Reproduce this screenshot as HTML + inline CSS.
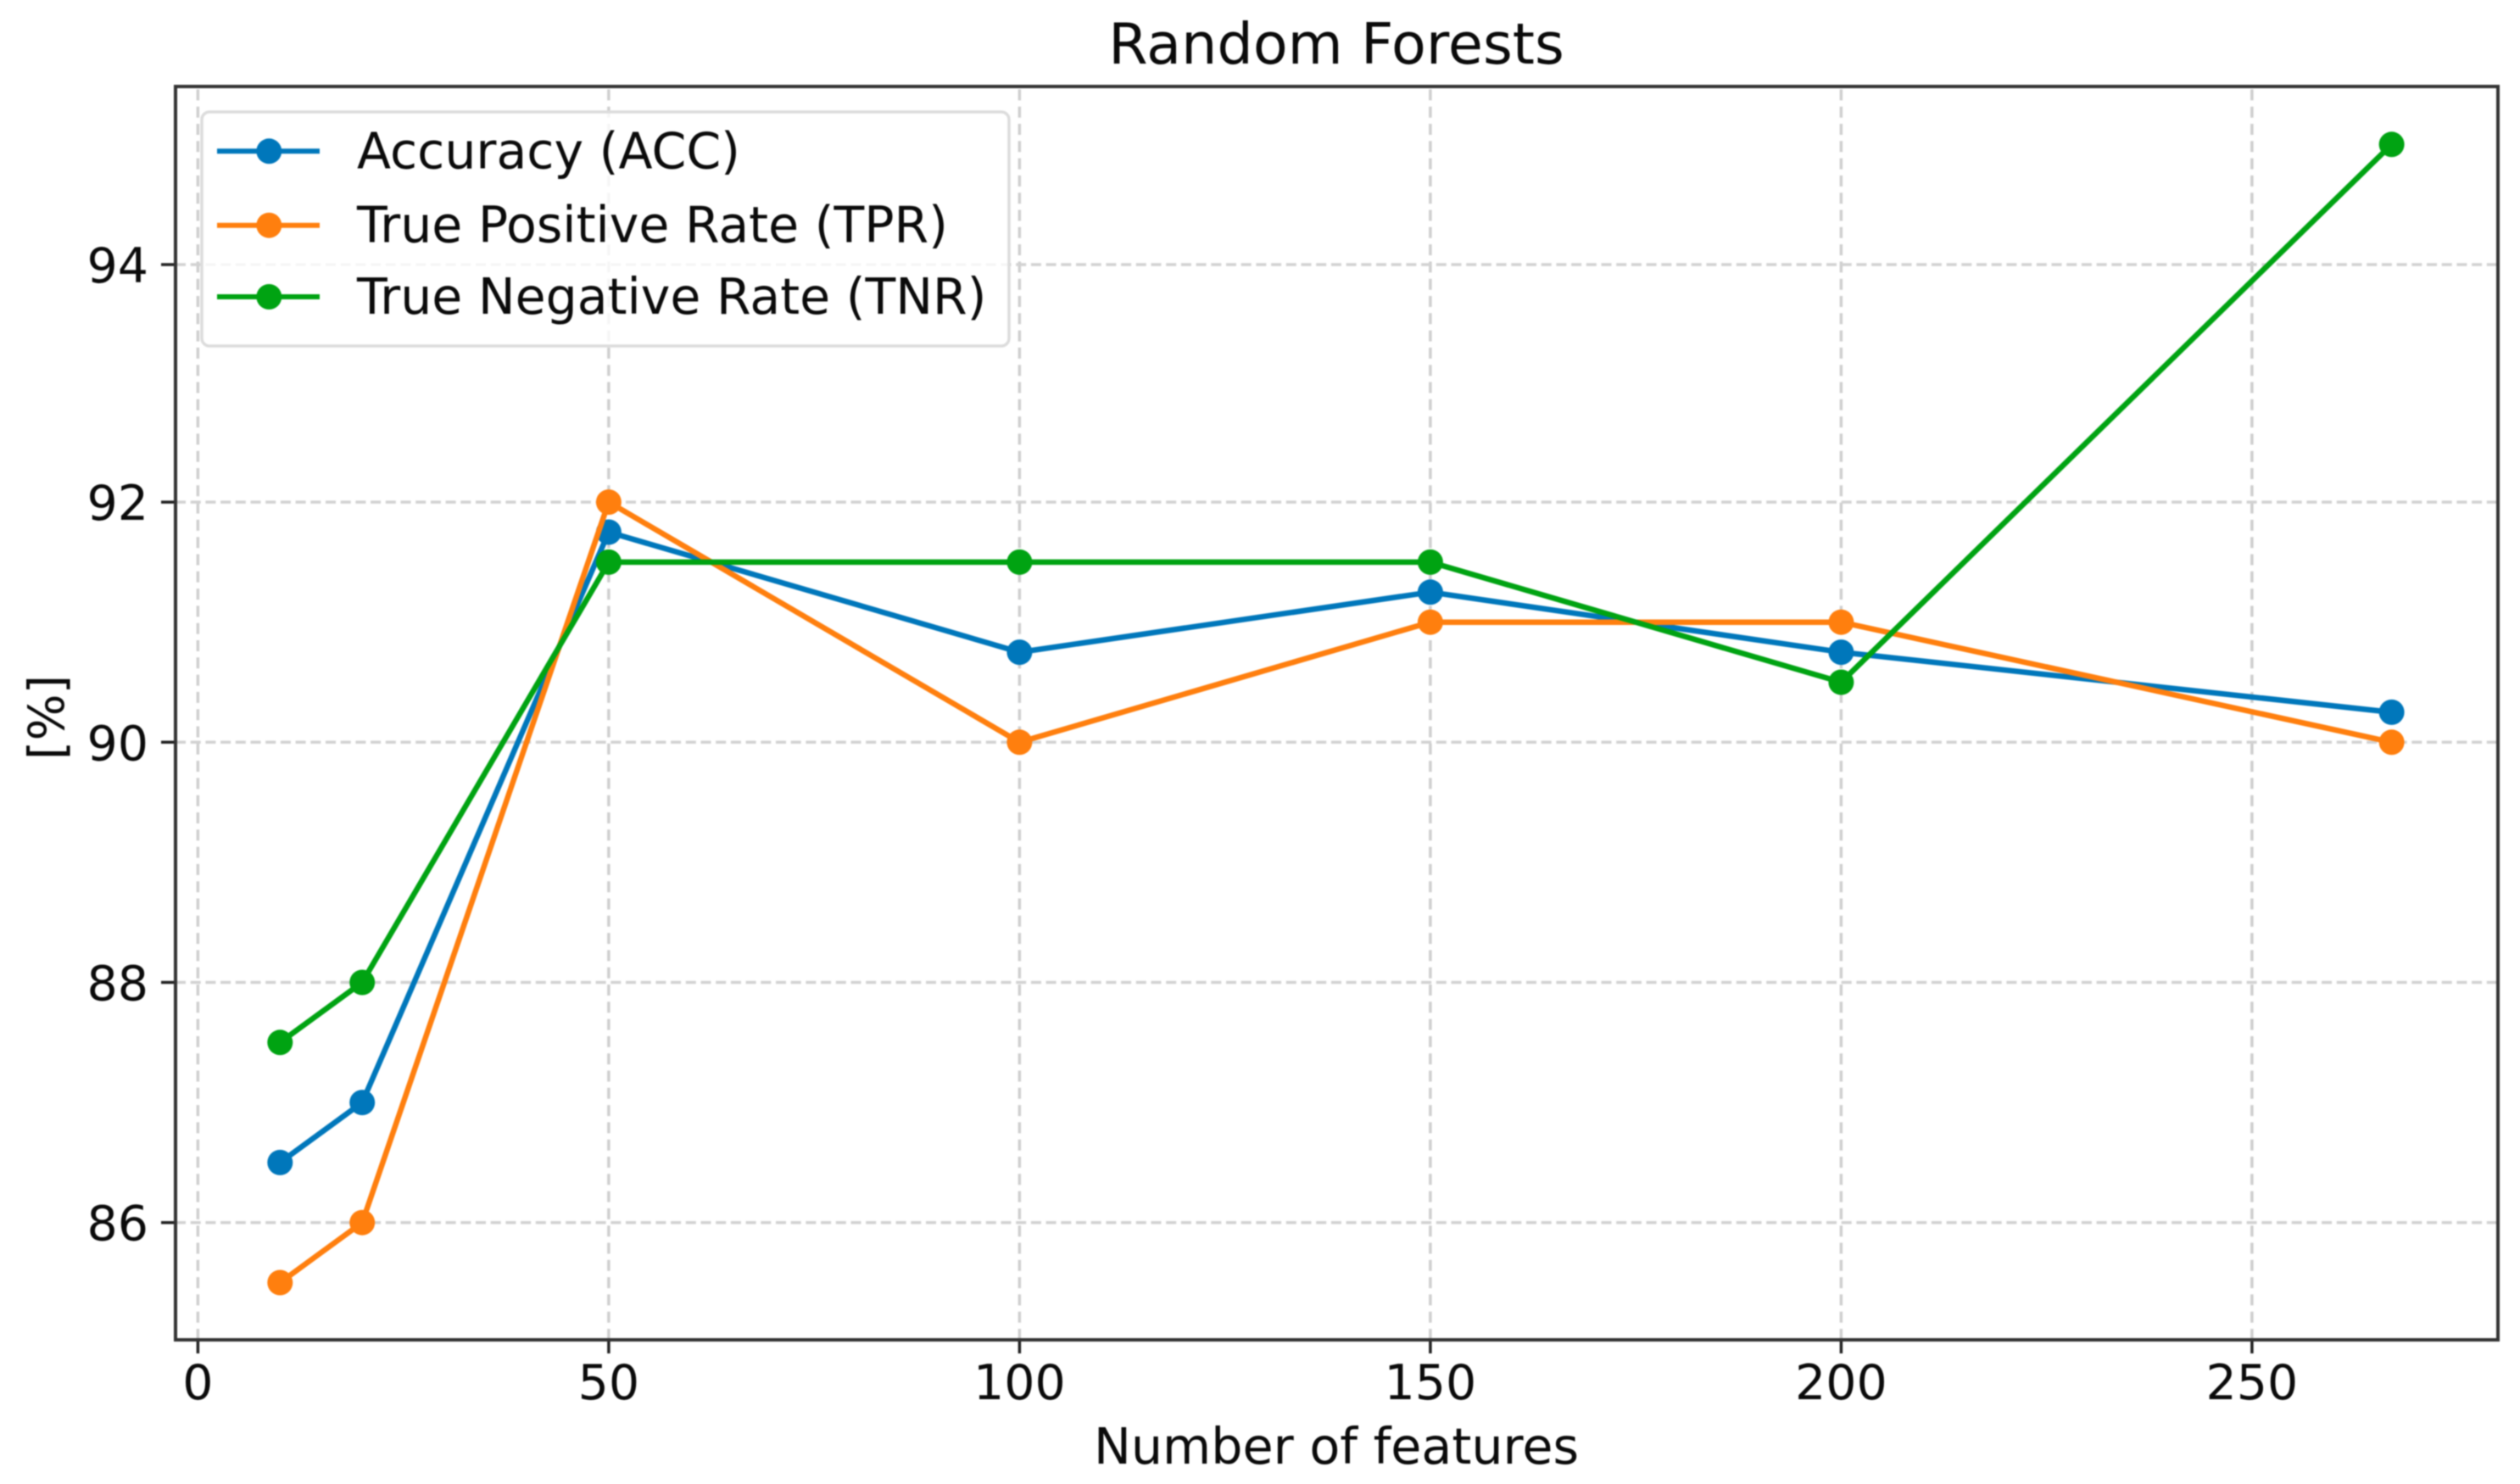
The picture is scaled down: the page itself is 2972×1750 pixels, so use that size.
<!DOCTYPE html>
<html><head><meta charset="utf-8"><title>Random Forests</title>
<style>html,body{margin:0;padding:0;background:#fff;width:2972px;height:1750px;overflow:hidden}
text{font-family:"DejaVu Sans","Liberation Sans",sans-serif;fill:#0a0a0a}</style></head>
<body>
<svg id="chart" width="2972" height="1750" viewBox="0 0 2972 1750" xmlns="http://www.w3.org/2000/svg" style="filter:blur(.9px)">
<rect width="2972" height="1750" fill="#fff"/>
<g id="grid"></g>
<g id="series"></g>
<g id="ticks"></g>
<rect x="207" y="102" width="2739" height="1478" fill="none" stroke="#333" stroke-width="4"/>
<rect x="238" y="132" width="952" height="276" rx="9" fill="#fff" fill-opacity=".8" stroke="#dcdcdc" stroke-width="3.5"/>
<g id="legend"></g>
<text x="1576" y="75" font-size="66.8" text-anchor="middle">Random Forests</text>
<text x="1576" y="1726" font-size="58.7" text-anchor="middle">Number of features</text>
<text transform="translate(75,846) rotate(-90)" font-size="58" text-anchor="middle">[%]</text>
</svg>
<script>
const features = [10, 20, 50, 100, 150, 200, 267];
const accuracy = [86.5, 87, 91.75, 90.75, 91.25, 90.75, 90.25];
const tpr = [85.5, 86, 92, 90, 91, 91, 90];
const tnr = [87.5, 88, 91.5, 91.5, 91.5, 90.5, 95];
const xTicks = [0, 50, 100, 150, 200, 250];
const yTicks = [86, 88, 90, 92, 94];
const seriesNames = ['Accuracy (ACC)', 'True Positive Rate (TPR)', 'True Negative Rate (TNR)'];
const seriesKeys = ['accuracy', 'tpr', 'tnr'];
const seriesColors = ['#0077bb', '#ff7f0e', '#00a312'];

const NS = 'http://www.w3.org/2000/svg';
const xScale = v => 233.4 + v * 9.69;
const yScale = v => {
  if (v <= 92) return 1441.7 - (v - 86) * 141.6;
  if (v <= 94) return 592.1 - (v - 92) * 140.05;
  return 312 - (v - 94) * 141.7;
};
function make(tag, attrs, parent) {
  const el = document.createElementNS(NS, tag);
  for (const k in attrs) el.setAttribute(k, attrs[k]);
  parent.appendChild(el);
  return el;
}
const gridG = document.getElementById('grid');
const ticksG = document.getElementById('ticks');
const seriesG = document.getElementById('series');
const legendG = document.getElementById('legend');

xTicks.forEach(t => {
  const x = xScale(t);
  const g = make('line', {x1: x, x2: x, y1: 1580, y2: 102, stroke: '#cfcfcf', 'stroke-width': 3.5, 'stroke-dasharray': '13 7.3'}, gridG);
  
  
  const m = make('line', {x1: x, x2: x, y1: 1580, y2: 1596, stroke: '#222', 'stroke-width': 3.5}, ticksG);
  
  
  const l = make('text', {x: x, y: 1650, 'font-size': 57, 'text-anchor': 'middle'}, ticksG);
  
  
  l.textContent = t;
});
yTicks.forEach(t => {
  const y = yScale(t);
  const g = make('line', {x1: 207, x2: 2946, y1: y, y2: y, stroke: '#d2d2d2', 'stroke-width': 3.5, 'stroke-dasharray': '12 5.7'}, gridG);
  
  
  const m = make('line', {x1: 190, x2: 207, y1: y, y2: y, stroke: '#222', 'stroke-width': 3.5}, ticksG);
  
  
  const l = make('text', {x: 175, y: y + 21, 'font-size': 57, 'text-anchor': 'end'}, ticksG);
  
  
  l.textContent = t;
});
const seriesData = [accuracy, tpr, tnr];
seriesData.forEach((vals, i) => {
  const color = seriesColors[i];
  const pts = vals.map((v, j) => xScale(features[j]) + ',' + yScale(v)).join(' ');
  const line = make('polyline', {points: pts, fill: 'none', stroke: color, 'stroke-width': 6.5, 'stroke-linejoin': 'round'}, seriesG);
  
  
  vals.forEach((v, j) => {
    const c = make('circle', {cx: xScale(features[j]), cy: yScale(v), r: 15, fill: color}, seriesG);
    
    
  });
});
const legendRows = [178.3, 265.7, 350];
seriesNames.forEach((name, i) => {
  const y = legendRows[i];
  const line = make('line', {x1: 256, x2: 377, y1: y, y2: y, stroke: seriesColors[i], 'stroke-width': 6}, legendG);
  
  
  const c = make('circle', {cx: 317.3, cy: y, r: 15, fill: seriesColors[i]}, legendG);
  
  
  const t = make('text', {x: 421, y: y + 20, 'font-size': 58.5}, legendG);
  
  
  t.textContent = name;
});
</script>
</body></html>
